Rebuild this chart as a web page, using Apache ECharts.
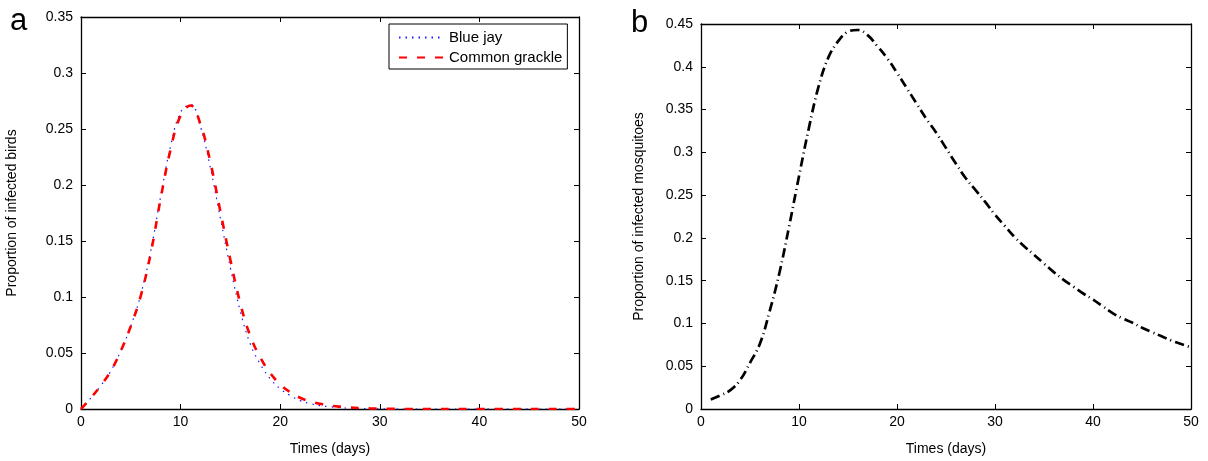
<!DOCTYPE html>
<html>
<head>
<meta charset="utf-8">
<script src="https://cdn.jsdelivr.net/npm/echarts@6/dist/echarts.min.js"></script>
<style>
  html, body { margin: 0; padding: 0; background: #fff; }
  #chart { width: 1208px; height: 461px; }
</style>
</head>
<body>
<div id="chart"></div>
<script>
// Time in days (panel a)
const daysBirds = [0, 1, 2, 3, 4, 5, 6, 7, 8, 9, 10, 11, 12, 13, 14, 15, 16, 17, 18, 19, 20,
  21, 22, 23, 24, 25, 26, 27, 28, 29, 30, 31, 32, 33, 34, 35, 36, 37, 38, 39, 40,
  41, 42, 43, 44, 45, 46, 47, 48, 49, 50];

// Proportion of infected blue jays
const blueJay = [0, 0.010, 0.021, 0.034, 0.052, 0.074, 0.102, 0.141, 0.190, 0.235, 0.265,
  0.272, 0.252, 0.215, 0.170, 0.126, 0.087, 0.058, 0.040, 0.027, 0.018,
  0.012, 0.0075, 0.0048, 0.0030, 0.0020, 0.0012, 0.0007, 0.0004, 0.0002, 0.0001,
  0, 0, 0, 0, 0, 0, 0, 0, 0, 0,
  0, 0, 0, 0, 0, 0, 0, 0, 0, 0];

// Proportion of infected common grackles
const commonGrackle = [0, 0.010, 0.021, 0.034, 0.052, 0.074, 0.101, 0.139, 0.188, 0.232, 0.262,
  0.271, 0.254, 0.220, 0.176, 0.133, 0.094, 0.065, 0.046, 0.032, 0.022,
  0.015, 0.010, 0.0068, 0.0046, 0.0031, 0.0021, 0.0014, 0.0009, 0.0006, 0.0004,
  0.0002, 0.0001, 0, 0, 0, 0, 0, 0, 0, 0,
  0, 0, 0, 0, 0, 0, 0, 0, 0, 0];

// Time in days (panel b)
const daysMosq = [1, 2, 3, 4, 5, 6, 7, 8, 9, 10, 11, 12, 13, 14, 15, 16, 17, 18, 19, 20,
  21, 22, 23, 24, 25, 26, 27, 28, 29, 30, 31, 32, 33, 34, 35, 36, 37, 38, 39, 40,
  41, 42, 43, 44, 45, 46, 47, 48, 49, 50];

// Proportion of infected mosquitoes
const mosquitoes = [0.011, 0.016, 0.022, 0.034, 0.054, 0.076, 0.114, 0.159, 0.214, 0.272,
  0.328, 0.377, 0.411, 0.430, 0.441, 0.443, 0.437, 0.424, 0.410, 0.393,
  0.375, 0.357, 0.339, 0.323, 0.305, 0.287, 0.270, 0.256, 0.242, 0.227,
  0.214, 0.201, 0.190, 0.180, 0.170, 0.160, 0.151, 0.143, 0.135, 0.128,
  0.120, 0.112, 0.106, 0.101, 0.095, 0.090, 0.085, 0.080, 0.076, 0.072];

// Axis ticks
const xTicks = { min: 0, max: 50, interval: 10 };
const yTicksBirds = { min: 0, max: 0.35, interval: 0.05 };
const yTicksMosq = { min: 0, max: 0.45, interval: 0.05 };

const FONT = '"Liberation Sans", Arial, Helvetica, sans-serif';
const INK = '#000';

function pairs(xs, ys) { return xs.map((x, i) => [x, ys[i]]); }

// One side of the boxed frame: axis line with inward ticks
function boxAxis(pos, grid, ticks, opts) {
  const a = {
    type: 'value',
    gridIndex: grid,
    position: pos,
    min: ticks.min, max: ticks.max, interval: ticks.interval,
    splitLine: { show: false },
    axisLine: { show: true, onZero: false, lineStyle: { color: INK, width: 1.3 } },
    axisTick: { show: true, inside: true, length: 5, lineStyle: { color: INK, width: 1 } },
    axisLabel: { show: false }
  };
  return Object.assign(a, opts || {});
}

function mainX(grid) {
  return boxAxis('bottom', grid, xTicks, {
    name: 'Times (days)', nameLocation: 'middle', nameGap: 33,
    nameTextStyle: { fontFamily: FONT, fontSize: 14, color: INK },
    axisLabel: { show: true, margin: 6, fontFamily: FONT, fontSize: 14, color: INK }
  });
}

function mainY(grid, ticks, name, gap) {
  return boxAxis('left', grid, ticks, {
    name: name, nameLocation: 'middle', nameGap: gap,
    nameTextStyle: { fontFamily: FONT, fontSize: 14, color: INK },
    axisLabel: { show: true, margin: 8, fontFamily: FONT, fontSize: 14, color: INK }
  });
}

const chart = echarts.init(document.getElementById('chart'), null, { renderer: 'canvas' });

chart.setOption({
  animation: false,
  backgroundColor: '#fff',
  grid: [
    { left: 81, top: 17, width: 498, height: 392 },
    { left: 701, top: 24, width: 490, height: 386 }
  ],
  xAxis: [
    mainX(0),
    boxAxis('top', 0, xTicks),
    mainX(1),
    boxAxis('top', 1, xTicks)
  ],
  yAxis: [
    mainY(0, yTicksBirds, 'Proportion of infected birds', 62),
    boxAxis('right', 0, yTicksBirds),
    mainY(1, yTicksMosq, 'Proportion of infected mosquitoes', 55),
    boxAxis('right', 1, yTicksMosq)
  ],
  legend: {
    orient: 'vertical',
    left: 389, top: 24,
    padding: [6, 5, 4, 9],
    itemWidth: 45, itemHeight: 14, itemGap: 5,
    borderColor: INK, borderWidth: 1,
    backgroundColor: '#fff',
    // line samples only, no marker symbol
    itemStyle: { color: 'rgba(0,0,0,0)', borderColor: 'rgba(0,0,0,0)', borderWidth: 0 },
    textStyle: { fontFamily: FONT, fontSize: 15, color: INK, lineHeight: 14 },
    data: ['Blue jay', 'Common grackle']
  },
  series: [
    {
      name: 'Blue jay', type: 'line',
      xAxisIndex: 0, yAxisIndex: 0,
      data: pairs(daysBirds, blueJay),
      symbol: 'none', smooth: 0.4,
      lineStyle: { color: '#1a1aff', width: 1.2, type: [1.5, 5] },
      itemStyle: { color: '#1a1aff' }
    },
    {
      name: 'Common grackle', type: 'line',
      xAxisIndex: 0, yAxisIndex: 0,
      data: pairs(daysBirds, commonGrackle),
      symbol: 'none', smooth: 0.4,
      lineStyle: { color: '#ff0000', width: 2.6, type: [8, 10] },
      itemStyle: { color: '#ff0000' }
    },
    {
      name: 'Mosquitoes', type: 'line',
      xAxisIndex: 2, yAxisIndex: 2,
      data: pairs(daysMosq, mosquitoes),
      symbol: 'none', smooth: 0.4,
      lineStyle: { color: '#000', width: 2.7, type: [9.5, 4, 1, 4] },
      itemStyle: { color: '#000' }
    }
  ],
  graphic: [
    { type: 'text', left: 10, top: 6,
      style: { text: 'a', fontFamily: FONT, fontSize: 31, fill: INK } },
    { type: 'text', left: 631, top: 8,
      style: { text: 'b', fontFamily: FONT, fontSize: 31, fill: INK } }
  ]
});
</script>
</body>
</html>
